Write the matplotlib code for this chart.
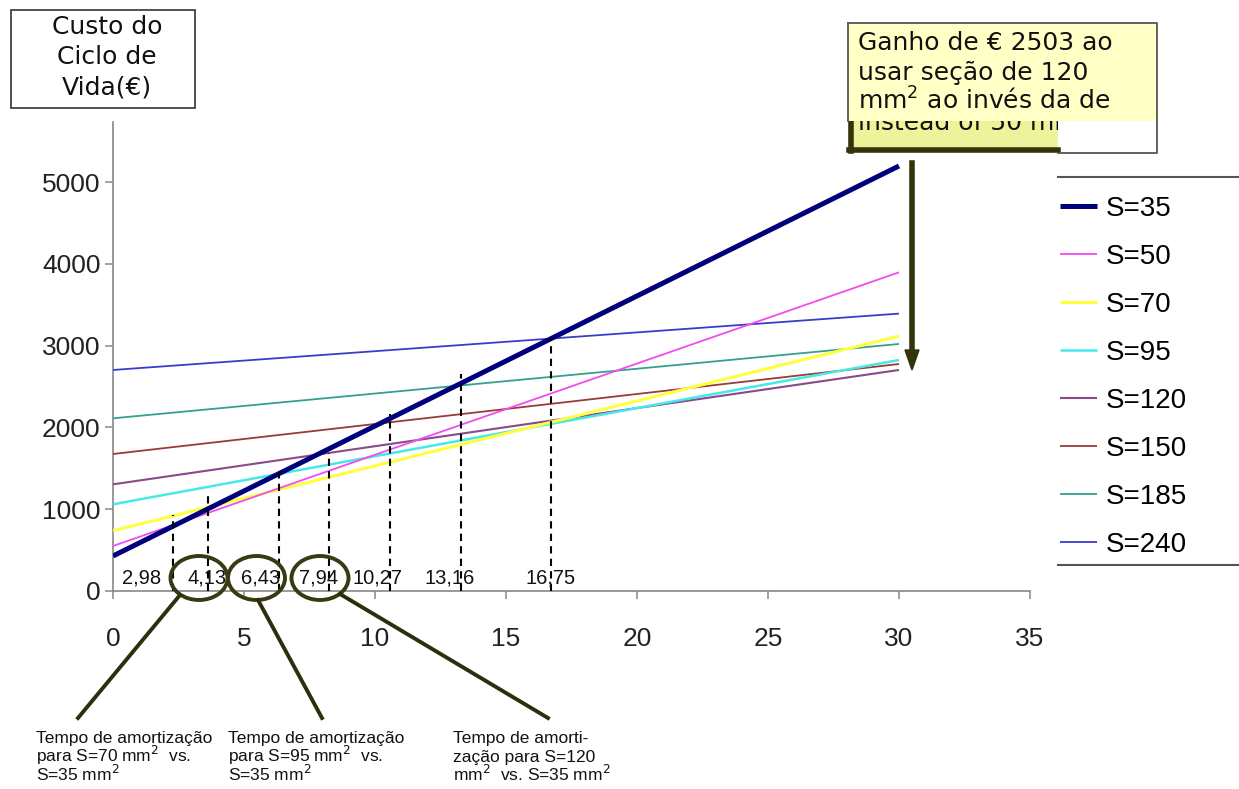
import matplotlib
matplotlib.use("Agg")
import matplotlib.pyplot as plt
from matplotlib.patches import Rectangle, Ellipse, FancyArrow
from matplotlib.lines import Line2D

# ---------------- data ----------------
years = [0, 30]
series_names = ["S=35", "S=50", "S=70", "S=95", "S=120", "S=150", "S=185", "S=240"]
s35 = [428, 5196]
s50 = [550, 3896]
s70 = [737, 3117]
s95 = [1060, 2824]
s120 = [1304, 2702]
s150 = [1675, 2775]
s185 = [2111, 3020]
s240 = [2702, 3391]
series_values = [s35, s50, s70, s95, s120, s150, s185, s240]
series_colors = ["#00007a", "#f04cf0", "#ffff40", "#48e8e8", "#8a4a8a", "#9a3a3a", "#35a090", "#3c3ccc"]
series_widths = [3.6, 1.3, 2.2, 1.8, 1.5, 1.3, 1.3, 1.3]

# payback (crossing) markers
cross_x = [2.29, 3.62, 6.33, 8.23, 10.56, 13.27, 16.70]
cross_top = [930, 1175, 1470, 1690, 2165, 2650, 3090]
cross_labels = ["2,98", "4,13", "6,43", "7,94", "10,27", "13,16", "16,75"]
cross_label_x = [1.1, 3.6, 5.65, 7.85, 10.1, 12.85, 16.7]

xticks = [0, 5, 10, 15, 20, 25, 30, 35]
yticks = [0, 1000, 2000, 3000, 4000, 5000]

W, H = 1239, 789
fig = plt.figure(figsize=(W / 100, H / 100), dpi=100)
fig.patch.set_facecolor("white")

def fx(x):
    return x / W

def fy(y):
    return 1 - y / H

# main axes: x 0 at px 113, 35 at px 1030; y 0 at px 591, top at px 122
ax_l, ax_r, ax_b, ax_t = 113, 1030, 591, 122
ax = fig.add_axes([fx(ax_l), fy(ax_b), (ax_r - ax_l) / W, (ax_b - ax_t) / H])
ax.set_xlim(0, 35)
ymax = (ax_b - ax_t) / 81.8 * 1000
ax.set_ylim(0, ymax)

tick_font = dict(family=["Liberation Sans", "DejaVu Sans"], size=19)
order = [7, 6, 5, 4, 3, 2, 1, 0]
for i in order:
    ax.plot(years, series_values[i], color=series_colors[i], lw=series_widths[i],
            solid_capstyle="butt", zorder=3 + (10 if i == 0 else 0), label=series_names[i])
handles = [l for l in ax.get_lines()][::-1]

ax.vlines(cross_x, 0, cross_top, colors="black", linestyles=(0, (3.5, 2.5)), lw=1.5, zorder=20)
for xl, t in zip(cross_label_x, cross_labels):
    ax.text(xl, 159, t, ha="center", va="center", fontsize=14.5,
            family=["Liberation Sans", "DejaVu Sans"], color="#111111", zorder=21)

for s in ["top", "right"]:
    ax.spines[s].set_visible(False)
for s in ["left", "bottom"]:
    ax.spines[s].set_color("#888888")
    ax.spines[s].set_linewidth(1.2)
ax.set_xticks(xticks)
ax.set_yticks(yticks)
ax.set_xticklabels([str(v) for v in xticks], **tick_font)
ax.set_yticklabels([str(v) for v in yticks], **tick_font)
ax.tick_params(axis="both", direction="out", length=6, width=1.1, color="#888888", labelcolor="#222222")
ax.tick_params(axis="x", pad=20)
ax.tick_params(axis="y", pad=3)
ax.patch.set_alpha(0)

# legend
fig.legend(handles=handles, labels=series_names, loc="upper left",
           bbox_to_anchor=(fx(1060), fy(196)), frameon=False,
           prop=dict(family=["Liberation Sans", "DejaVu Sans"], size=20),
           labelspacing=0.79, handlelength=1.33, handletextpad=0.3,
           borderpad=0, borderaxespad=0)

# overlay axes in pixel coordinates
ov = fig.add_axes([0, 0, 1, 1], zorder=50)
ov.set_xlim(0, W)
ov.set_ylim(H, 0)
ov.axis("off")
ov.patch.set_alpha(0)

# legend frame lines (box extends past the right edge)
ov.add_line(Line2D([1058, W], [177, 177], color="#555555", lw=1.5))
ov.add_line(Line2D([1058, W], [565, 565], color="#555555", lw=1.5))

# y-axis title box
ov.add_patch(Rectangle((11, 10), 184, 98, facecolor="white", edgecolor="#333333", lw=1.2))
for yy, t in zip([27, 57, 87], ["Custo do", "Ciclo de", "Vida(€)"]):
    ov.text(107, yy, t, ha="center", va="center", fontsize=18, family="DejaVu Sans", color="#111111")

# annotation box (upper right)
olive = "#34340a"
ov.add_patch(Rectangle((848, 121), 210, 30, facecolor="#eef29a", edgecolor="none", zorder=1))
ov.add_line(Line2D([850.5, 850.5], [121, 151], color=olive, lw=4, zorder=2))
ov.add_line(Line2D([849, 1058], [150, 150], color=olive, lw=4, zorder=2))
hidden = ov.text(858, 130, "instead of 50 mm", ha="left", va="baseline", fontsize=18,
                 family="DejaVu Sans", color="#111111", zorder=1.5)
hidden.set_clip_on(True)
hidden.set_clip_path(Rectangle((848, 121), 210, 27, transform=ov.transData))
ov.add_patch(Rectangle((848, 23), 309, 98, facecolor="#ffffc6", edgecolor="none", zorder=6))
ov.add_line(Line2D([848, 1157, 1157, 1058], [23, 23, 153, 153], color="#555555", lw=1.3, zorder=7))
ov.add_line(Line2D([848, 848], [23, 121], color="#555555", lw=1.3, zorder=7))
for yy, t in zip([50, 80, 110], ["Ganho de € 2503 ao", "usar seção de 120", "mm$^2$ ao invés da de"]):
    ov.text(858, yy, t, ha="left", va="baseline", fontsize=18, family="DejaVu Sans",
            color="#111111", zorder=8)

# arrow
ov.add_line(Line2D([912, 912], [163, 352], color=olive, lw=4))
ov.add_patch(FancyArrow(912, 350, 0, 20, width=0, head_width=14, head_length=20,
                        length_includes_head=True, color=olive))

# ellipses around payback labels and leader lines
for cx in [199, 256.5, 320]:
    ov.add_patch(Ellipse((cx, 578), 57, 44, facecolor="none", edgecolor="#3a3a12", lw=2.8))
ov.add_line(Line2D([180, 78], [595, 718], color="#2e2e0c", lw=2.8))
ov.add_line(Line2D([258, 322], [600, 718], color="#2e2e0c", lw=2.8))
ov.add_line(Line2D([340, 548], [594, 718], color="#2e2e0c", lw=2.8))

# bottom annotation texts
ann_font = ["Liberation Sans", "DejaVu Sans"]
texts = [
    (36, ["Tempo de amortização", "para S=70 mm$^2$  vs.", "S=35 mm$^2$"]),
    (228, ["Tempo de amortização", "para S=95 mm$^2$  vs.", "S=35 mm$^2$"]),
    (453, ["Tempo de amorti-", "zação para S=120", "mm$^2$  vs. S=35 mm$^2$"]),
]
for x0, lines in texts:
    for yy, t in zip([743, 762, 781], lines):
        ov.text(x0, yy, t, ha="left", va="baseline", fontsize=12.5, family=ann_font, color="#111111")

fig.savefig("out.png", dpi=100, facecolor="white")
